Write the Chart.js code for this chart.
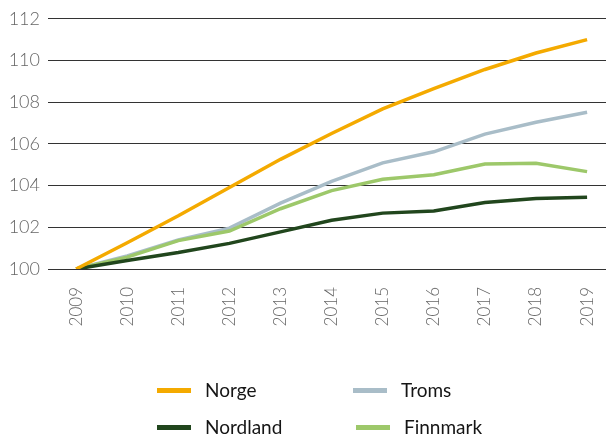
<!DOCTYPE html>
<html>
<head>
<meta charset="utf-8">
<script src="https://cdn.jsdelivr.net/npm/chart.js@4/dist/chart.umd.min.js"></script>
<style>
  body { margin: 0; background: #fff; }
  #wrap { position: relative; width: 606px; height: 434px; }
  #myChart { position: absolute; left: 0; top: 0; }
  .leg { position: absolute; font-family: Lato, sans-serif; font-size: 19px; color: #151515; line-height: 20px; }
  .leg span.sw { position: absolute; top: 8px; width: 34px; height: 5px; }
  .leg span.tx { position: absolute; white-space: nowrap; }
</style>
</head>
<body>
<div id="wrap">
  <canvas id="myChart" width="606" height="434"></canvas>
</div>
<script>
// index, 2009 = 100
const years = [2009, 2010, 2011, 2012, 2013, 2014, 2015, 2016, 2017, 2018, 2019];
const norge = [100, 101.26, 102.55, 103.91, 105.26, 106.5, 107.68, 108.65, 109.57, 110.36, 111.0];
const troms = [100, 100.63, 101.39, 101.96, 103.16, 104.2, 105.09, 105.62, 106.47, 107.04, 107.52];
const nordland = [100, 100.41, 100.79, 101.23, 101.78, 102.34, 102.68, 102.78, 103.19, 103.38, 103.44];
const finnmark = [100, 100.57, 101.36, 101.82, 102.89, 103.76, 104.3, 104.52, 105.04, 105.07, 104.67];
const yTicks = [100, 102, 104, 106, 108, 110, 112];

function pts(vals) {
  return vals.map(function (v, i) { return { x: years[i], y: v }; });
}

const series = [
  { label: "Norge", color: "#F4AA00", vals: norge, legX: 157, legY: 380 },
  { label: "Troms", color: "#A9BDC8", vals: troms, legX: 353, legY: 380 },
  { label: "Nordland", color: "#21461D", vals: nordland, legX: 157, legY: 417 },
  { label: "Finnmark", color: "#9DC86A", vals: finnmark, legX: 356, legY: 417 },
];

var data = {
  datasets: series.map(function (s) {
    return {
      label: s.label,
      data: pts(s.vals),
      borderColor: s.color,
      backgroundColor: s.color,
      borderWidth: 3.5,
      pointRadius: 0,
      tension: 0,
    };
  }),
};
// draw order: Norge on top like the original
data.datasets[0].order = 0;
data.datasets[1].order = 3;
data.datasets[3].order = 2;
data.datasets[2].order = 1;

var myChart = new Chart(document.getElementById("myChart").getContext("2d"), {
  type: "line",
  data: data,
  options: {
    responsive: false,
    animation: false,
    layout: { padding: { top: 16, left: 0, right: 0, bottom: 0 } },
    plugins: { legend: { display: false }, tooltip: { enabled: false } },
    scales: {
      x: {
        type: "linear",
        min: 2008.45,
        max: 2019.37,
        afterBuildTicks: function (scale) {
          scale.ticks = years.map(function (y) { return { value: y }; });
        },
        afterFit: function (scale) {
          scale.height = 165;
          scale.paddingLeft = 0;
          scale.paddingRight = 0;
        },
        grid: { display: false, drawTicks: false },
        border: { display: false },
        ticks: {
          maxRotation: 90,
          minRotation: 90,
          padding: 18,
          color: "#666",
          font: { family: "Lato", size: 17, weight: "300" },
          callback: function (v) { return String(v); },
        },
      },
      y: {
        min: 100,
        max: 112,
        afterBuildTicks: function (scale) {
          scale.ticks = yTicks.map(function (t) { return { value: t }; });
        },
        afterFit: function (scale) { scale.width = 48; },
        grid: { color: "#333", lineWidth: 1, drawTicks: false },
        border: { display: false },
        ticks: {
          padding: 8,
          color: "#666",
          font: { family: "Lato", size: 18, weight: "300" },
        },
      },
    },
  },
});

// legend in two columns, like the original
var wrap = document.getElementById("wrap");
series.forEach(function (s) {
  var d = document.createElement("div");
  d.className = "leg";
  d.style.left = s.legX + "px";
  d.style.top = s.legY + "px";
  d.innerHTML = '<span class="sw" style="left:0;background:' + s.color + '"></span>' +
    '<span class="tx" style="left:' + 48 + 'px">' + s.label + '</span>';
  wrap.appendChild(d);
});
</script>
</body>
</html>
